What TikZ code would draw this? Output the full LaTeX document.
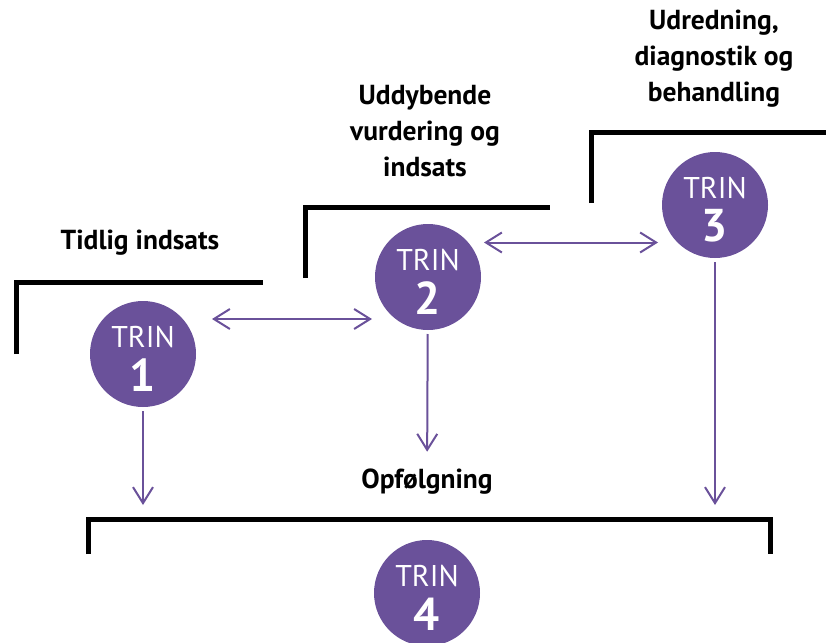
\documentclass[tikz,border=0pt]{standalone}
\usepackage{fontspec}
\setmainfont{PT Sans}
\usetikzlibrary{arrows.meta}
\definecolor{trinpurple}{RGB}{106,81,154}

\begin{document}
\begin{tikzpicture}[x=1pt, y=-1pt,
    barb/.tip={Straight Barb[length=16pt, width=20pt]},
    trin/.style={circle, fill=trinpurple, minimum size=106pt, inner sep=0pt, outer sep=4pt,
        label={[text=white, font=\fontsize{30}{30}\selectfont, yshift=17pt]center:TRIN},
        label={[text=white, font=\bfseries\fontsize{46}{46}\selectfont, yshift=-21pt]center:#1}},
    head/.style={font=\bfseries\fontsize{27.5}{36}\selectfont, align=center},
    bracket/.style={line width=5pt},
    link/.style={trinpurple, line width=2pt, -barb},
    twoway/.style={trinpurple, line width=2pt, barb-barb}]
  \useasboundingbox (0,0) rectangle (826,642);

  % steps
  \node[trin=1] (trin1) at (143,354) {};
  \node[trin=2] (trin2) at (428,277) {};
  \node[trin=3] (trin3) at (715,205) {};
  \node[trin=4] (trin4) at (427,593) {};

  % headings
  \node[head] (h1) at (140,243) {Tidlig indsats};
  \node[head] (h2) at (425,131) {Uddybende\\vurdering og\\indsats};
  \node[head] (h3) at (714,59) {Udredning,\\diagnostik og\\behandling};
  \node[head] (opf) at (427,482) {Opfølgning};

  % brackets
  \draw[bracket] (16.5,354) -- (16.5,282.5) -- (263,282.5);
  \draw[bracket] (305.5,278) -- (305.5,207.5) -- (550,207.5);
  \draw[bracket] (591.5,203) -- (591.5,132.5) -- (826,132.5);
  \draw[bracket] (88.5,554) -- (88.5,519.5) -- (770.5,519.5) -- (770.5,554);

  % arrows
  \coordinate (a12) at (0,319);
  \coordinate (a23) at (0,242.5);
  \coordinate (d1) at (143,505);
  \coordinate (d3) at (715,505);
  \draw[twoway] ([xshift=12pt]trin1.east |- a12) -- ([xshift=1pt]trin2.west |- a12);
  \draw[twoway] ([xshift=-1pt]trin2.east |- a23) -- ([xshift=0pt]trin3.west |- a23);
  \draw[link] (trin1) -- (d1);
  \draw[link, shorten >=14pt] (trin2) -- (opf);
  \draw[link] (trin3) -- (d3);
\end{tikzpicture}
\end{document}
